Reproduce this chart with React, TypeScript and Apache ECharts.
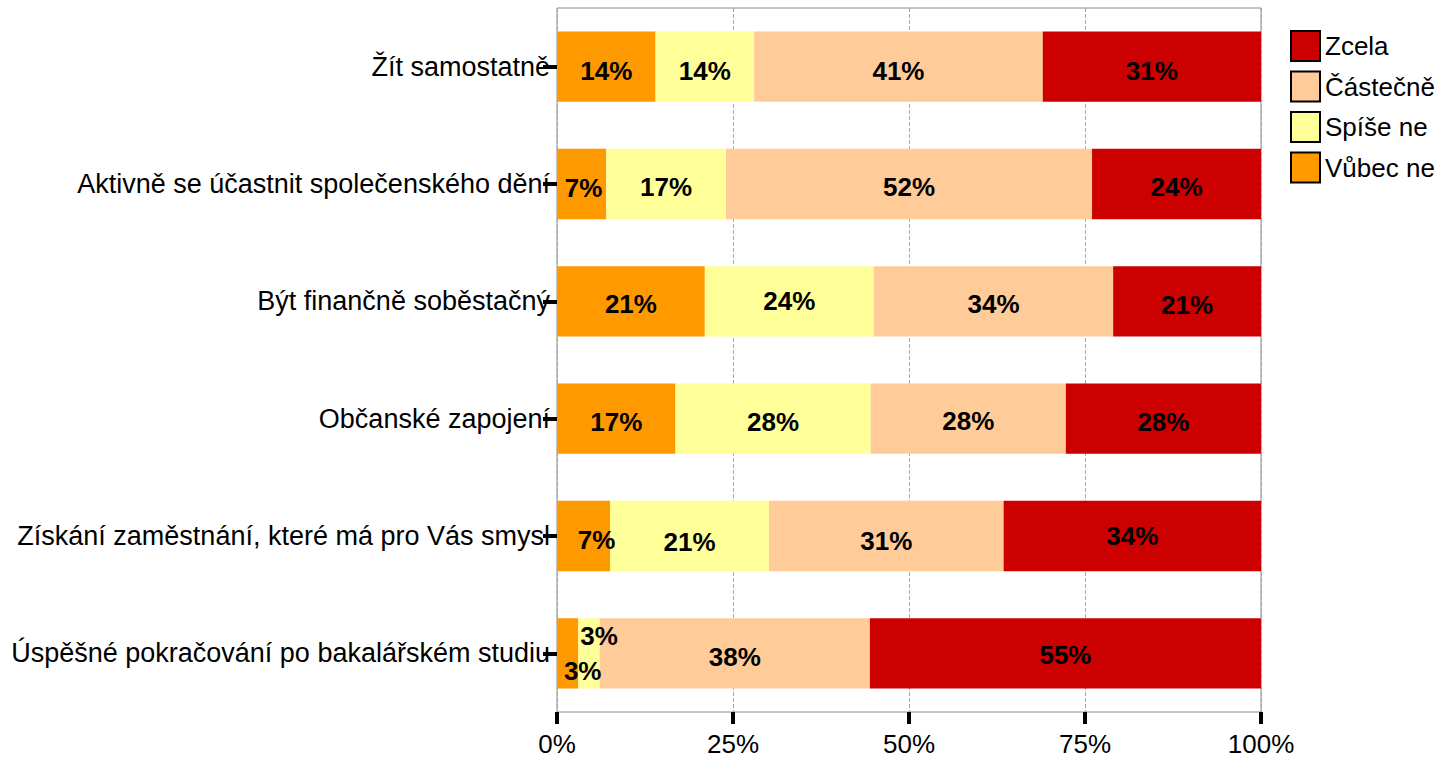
import React, { useEffect, useRef } from "react";
import * as echarts from "echarts";

const categories = [
  "Žít samostatně",
  "Aktivně se účastnit společenského dění",
  "Být finančně soběstačný",
  "Občanské zapojení",
  "Získání zaměstnání, které má pro Vás smysl",
  "Úspěšné pokračování po bakalářském studiu",
];

const seriesNames = ["Vůbec ne", "Spíše ne", "Částečně", "Zcela"];
const legendOrder = ["Zcela", "Částečně", "Spíše ne", "Vůbec ne"];

// percentages as printed on the bars (per category)
const vubecNe = [14, 7, 21, 17, 7, 3];
const spiseNe = [14, 17, 24, 28, 21, 3];
const castecne = [41, 52, 34, 28, 31, 38];
const zcela = [31, 24, 21, 28, 34, 55];

const xTicks = [0, 25, 50, 75, 100];

const colors = ["#FF9900", "#FFFF99", "#FFCC99", "#CC0000"];

// label nudges [dx, dy] per series, per category
const labelOffsets = [
  [[0, 4], [2, 4], [0, 3], [0, 3], [13, 4], [15, 18]],
  [[0, 4], [0, 3], [0, 0], [0, 3], [0, 6], [10, -17]],
  [[0, 4], [0, 3], [0, 3], [0, 2], [0, 5], [0, 4]],
  [[0, 4], [0, 3], [0, 4], [0, 3], [0, 0], [0, 2]],
];

const FONT = "'Liberation Sans', Arial, Helvetica, sans-serif";

export default function App() {
  const ref = useRef<HTMLDivElement>(null);

  useEffect(() => {
    if (!ref.current) return;
    const chart = echarts.init(ref.current, undefined, { renderer: "svg" });
    const raw = [vubecNe, spiseNe, castecne, zcela];
    const totals = categories.map((_, i) =>
      raw.reduce((s, arr) => s + arr[i], 0)
    );

    const series = raw.map((arr, si) => ({
      name: seriesNames[si],
      type: "bar",
      stack: "total",
      barWidth: "60%",
      itemStyle: { color: colors[si] },
      label: {
        show: true,
        position: "inside",
        color: "#000",
        fontWeight: "bold",
        fontSize: 26,
        fontFamily: FONT,
        formatter: (p: any) => p.data.raw + "%",
      },
      data: arr.map((v, ci) => ({
        value: (v / totals[ci]) * 100,
        raw: v,
        label: { offset: labelOffsets[si][ci] },
      })),
    }));

    chart.setOption({
      animation: false,
      textStyle: { fontFamily: FONT },
      grid: {
        left: 557,
        right: 187,
        top: 8,
        bottom: 48,
        show: true,
        borderColor: "#8a8a8a",
        borderWidth: 1,
        backgroundColor: "transparent",
      },
      legend: {
        orient: "vertical",
        left: 1290,
        top: 30,
        padding: 0,
        itemWidth: 29,
        itemHeight: 30,
        itemGap: 8.5,
        icon: "rect",
        data: legendOrder,
        itemStyle: { borderColor: "#000", borderWidth: 2 },
        textStyle: { fontSize: 26, color: "#000", fontFamily: FONT },
      },
      xAxis: {
        type: "value",
        min: xTicks[0],
        max: xTicks[xTicks.length - 1],
        interval: 25,
        axisLine: { show: false },
        axisTick: {
          show: true,
          length: 12,
          lineStyle: { color: "#000", width: 4 },
        },
        axisLabel: {
          formatter: "{value}%",
          fontSize: 26,
          color: "#000",
          fontFamily: FONT,
          margin: 19,
        },
        splitLine: {
          show: true,
          lineStyle: { color: "#a8a8a8", type: "dashed", width: 1 },
        },
      },
      yAxis: {
        type: "category",
        inverse: true,
        data: categories,
        axisLine: { show: false },
        axisTick: {
          show: true,
          alignWithLabel: true,
          length: 14,
          lineStyle: { color: "#000", width: 4 },
        },
        axisLabel: {
          fontSize: 27,
          color: "#000",
          fontFamily: FONT,
          margin: 7,
        },
        splitLine: { show: false },
      },
      series,
    });

    return () => chart.dispose();
  }, []);

  return (
    <div
      ref={ref}
      style={{ position: "fixed", left: 0, top: 0, width: 1448, height: 760, background: "#fff" }}
    />
  );
}
